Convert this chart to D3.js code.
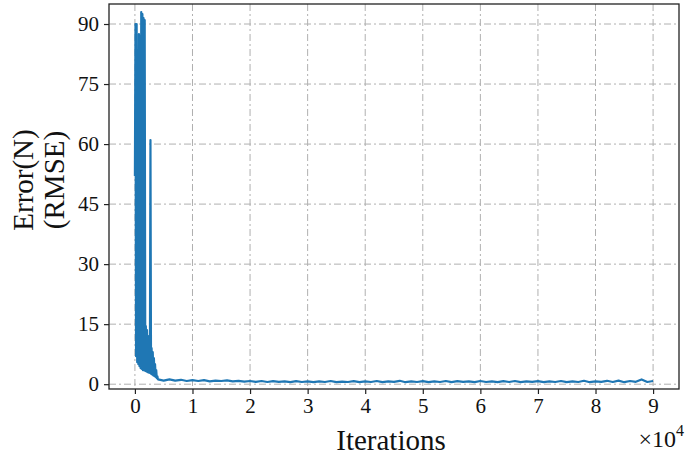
<!DOCTYPE html>
<html>
<head>
<meta charset="utf-8">
<script src="https://cdn.jsdelivr.net/npm/d3@7"></script>
<style>
  body { margin: 0; background: #fff; }
  svg { display: block; font-family: "Liberation Serif", "Times New Roman", serif; }
  .grid line { stroke: #b0b0b0; stroke-width: 1; stroke-dasharray: 7,3,2,3; }
</style>
</head>
<body>
<div id="chart"></div>
<script>
// early phase, sampled every 100 iterations (dense noisy band + spikes)
const earlyIters = [0, 100, 200, 300, 400, 500, 600, 700, 800, 900,
    1000, 1100, 1200, 1300, 1400, 1500, 1600, 1700, 1800, 1900,
    2000, 2100, 2200, 2300, 2400, 2500, 2600, 2700, 2800, 2900,
    3000, 3100, 3200, 3300, 3400, 3500, 3600, 3700, 3800, 3900];
const earlyErrors = [52, 90, 7, 90, 5.5, 83.5, 5, 87.5, 4.5, 87,
    4, 93, 3.8, 92.5, 3.5, 91.5, 3.5, 91, 3.3, 14.5,
    3.2, 13.5, 3, 12, 2.9, 11, 2.8, 61, 2.6, 9,
    2.4, 8, 2.2, 6.5, 2, 5, 1.8, 3.5, 1.5, 2];

// converged phase, every 1000 iterations from 4000 to 90000
const tailStart = 4000;
const tailStep = 1000;
const tailErrors = [1.2, 0.9, 1.2, 0.9, 1.1, 0.8, 1.0,
    0.8, 1.0, 0.7, 0.9, 0.8, 0.95, 0.7, 0.85, 0.65, 0.8,
    0.6, 0.8, 0.55, 0.75, 0.6, 0.7, 0.5, 0.75, 0.55, 0.7,
    0.5, 0.7, 0.55, 0.8, 0.5, 0.65, 0.55, 0.75, 0.5, 0.7,
    0.55, 0.8, 0.5, 0.7, 0.6, 0.85, 0.5, 0.7, 0.55, 0.75,
    0.5, 0.7, 0.55, 0.8, 0.5, 0.75, 0.6, 0.7, 0.5, 0.8,
    0.55, 0.7, 0.5, 0.75, 0.55, 0.8, 0.5, 0.7, 0.6, 0.75,
    0.5, 0.7, 0.55, 0.8, 0.5, 0.7, 0.55, 0.85, 0.5, 0.7,
    0.6, 0.85, 0.55, 0.9, 0.5, 0.8, 0.6, 1.2, 0.55, 0.8];

const xTicks = [0, 10000, 20000, 30000, 40000, 50000, 60000, 70000, 80000, 90000];
const yTicks = [0, 15, 30, 45, 60, 75, 90];

// merge into one series
let data = earlyIters.map((it, i) => ({it: it, err: earlyErrors[i]}));
tailErrors.forEach((e, i) => data.push({it: tailStart + i * tailStep, err: e}));

const W = 685, H = 456;
const plot = {left: 109, right: 679, top: 4, bottom: 389};

const svg = d3.select("#chart").append("svg")
    .attr("width", W)
    .attr("height", H);

const x = d3.scaleLinear().domain([-4500, 94500]).range([plot.left, plot.right]);
const y = d3.scaleLinear().domain([-1.2, 95]).range([plot.bottom, plot.top]);

// grid
const grid = svg.append("g").attr("class", "grid");
grid.selectAll(".gx").data(xTicks).enter().append("line")
    .attr("x1", d => x(d)).attr("x2", d => x(d))
    .attr("y1", plot.top).attr("y2", plot.bottom);
grid.selectAll(".gy").data(yTicks).enter().append("line")
    .attr("x1", plot.left).attr("x2", plot.right)
    .attr("y1", d => y(d)).attr("y2", d => y(d));

// the curve
const line = d3.line().x(d => x(d.it)).y(d => y(d.err));
svg.append("path")
    .datum(data)
    .attr("d", line)
    .attr("fill", "none")
    .attr("stroke", "#1f77b4")
    .attr("stroke-width", 2.2)
    .attr("stroke-linejoin", "round");

// axes
const xAxis = d3.axisBottom(x).tickValues(xTicks).tickFormat(d => d / 10000)
    .tickSizeInner(5).tickSizeOuter(0).tickPadding(4);
const yAxis = d3.axisLeft(y).tickValues(yTicks)
    .tickSizeInner(5).tickSizeOuter(0).tickPadding(5);

const gx = svg.append("g").attr("transform", `translate(0,${plot.bottom})`).call(xAxis);
const gy = svg.append("g").attr("transform", `translate(${plot.left},0)`).call(yAxis);
[gx, gy].forEach(g => {
    g.select(".domain").remove();
    g.selectAll(".tick line").attr("stroke", "#222").attr("stroke-width", 1.2);
    g.selectAll(".tick text")
        .attr("font-family", "Liberation Serif, serif")
        .attr("font-size", 21)
        .attr("fill", "#111");
});

// frame
svg.append("rect")
    .attr("x", plot.left).attr("y", plot.top)
    .attr("width", plot.right - plot.left).attr("height", plot.bottom - plot.top)
    .attr("fill", "none").attr("stroke", "#222").attr("stroke-width", 1.3);

// labels
svg.append("text")
    .attr("x", 391).attr("y", 450)
    .attr("text-anchor", "middle")
    .attr("font-size", 29)
    .attr("fill", "#111")
    .text("Iterations");

const yl = svg.append("text")
    .attr("transform", "translate(0,180) rotate(-90)")
    .attr("text-anchor", "middle")
    .attr("font-size", 29)
    .attr("fill", "#111");
yl.append("tspan").attr("x", 0).attr("y", 32.5).text("Error(N)");
yl.append("tspan").attr("x", 0).attr("y", 63.5).text("(RMSE)");

const mult = svg.append("text")
    .attr("x", 684).attr("y", 447)
    .attr("text-anchor", "end")
    .attr("font-size", 24)
    .attr("fill", "#111");
mult.append("tspan").text("×10");
mult.append("tspan").attr("font-size", 16).attr("dy", -11).text("4");
</script>
</body>
</html>
